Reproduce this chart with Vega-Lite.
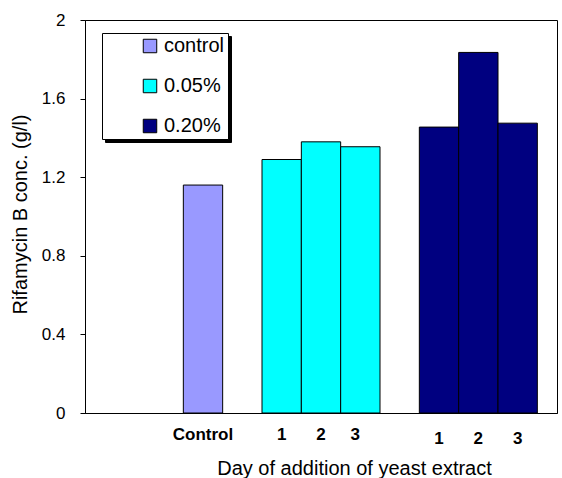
{
  "$schema": "https://vega.github.io/schema/vega-lite/v6.json",
  "width": 472,
  "height": 393,
  "autosize": "none",
  "padding": {"left": 85, "top": 20, "right": 5, "bottom": 65},
  "background": "white",
  "config": {
    "font": "Liberation Sans",
    "view": {"stroke": "black", "strokeWidth": 1},
    "axis": {"labelColor": "black", "titleColor": "black", "domainColor": "black", "tickColor": "black", "grid": false},
    "legend": {"labelColor": "black", "titleColor": "black"}
  },
  "data": {
    "values": [
      {"slot": "ctrl", "group": "control", "value": 1.16},
      {"slot": "c1", "group": "0.05%", "value": 1.29},
      {"slot": "c2", "group": "0.05%", "value": 1.38},
      {"slot": "c3", "group": "0.05%", "value": 1.355},
      {"slot": "n1", "group": "0.20%", "value": 1.455},
      {"slot": "n2", "group": "0.20%", "value": 1.835},
      {"slot": "n3", "group": "0.20%", "value": 1.475}
    ]
  },
  "mark": {"type": "bar", "stroke": "black", "strokeWidth": 1},
  "encoding": {
    "x": {
      "field": "slot",
      "type": "nominal",
      "sort": null,
      "scale": {"domain": ["e1", "e2", "ctrl", "e3", "c1", "c2", "c3", "e4", "n1", "n2", "n3"], "paddingInner": 0, "paddingOuter": 0.5},
      "axis": {
        "title": "Day of addition of yeast extract",
        "labelAngle": 0,
        "ticks": false,
        "tickSize": 0,
        "labelOverlap": false,
        "labelExpr": "datum.value == 'ctrl' ? 'Control' : (indexof(['c1','c2','c3','n1','n2','n3'], datum.value) >= 0 ? substring(datum.value, 1) : '')",
        "labelFontSize": 17,
        "labelFontWeight": "bold",
        "labelBaseline": "top",
        "labelPadding": {"condition": {"test": "indexof(['n1','n2','n3'], datum.value) >= 0", "value": 17}, "value": 13},
        "labelOffset": {"condition": {"test": "datum.value == 'c3'", "value": -5}, "value": 0},
        "titleFontSize": 20,
        "titleFontWeight": "normal",
        "titleX": 269,
        "titleY": 61,
        "titleBaseline": "alphabetic",
        "titleAlign": "center"
      }
    },
    "y": {
      "field": "value",
      "type": "quantitative",
      "scale": {"domain": [0, 2], "nice": false},
      "axis": {
        "title": "Rifamycin B conc. (g/l)",
        "values": [0, 0.4, 0.8, 1.2, 1.6, 2],
        "format": "~f",
        "tickSize": 5,
        "labelFontSize": 17,
        "labelPadding": 15,
        "titleFontSize": 20,
        "titleFontWeight": "normal",
        "titleAngle": -90,
        "titleX": -59,
        "titleY": 194,
        "titleBaseline": "alphabetic",
        "titleAlign": "center"
      }
    },
    "color": {
      "field": "group",
      "type": "nominal",
      "scale": {"domain": ["control", "0.05%", "0.20%"], "range": ["#9999FF", "#00FFFF", "#000080"]},
      "legend": {
        "title": " ",
        "titleOrient": "left",
        "titleFontSize": 10,
        "titlePadding": 35,
        "orient": "none",
        "legendX": 17,
        "legendY": 13,
        "fillColor": "white",
        "strokeColor": "black",
        "padding": 3,
        "rowPadding": 20,
        "symbolType": "square",
        "symbolSize": 182,
        "symbolStrokeColor": "black",
        "symbolStrokeWidth": 1,
        "labelFontSize": 20,
        "labelOffset": 4,
        "labelExpr": "datum.label + '\u00a0\u00a0\u00a0\u00a0\u00a0\u00a0'",
        "zindex": 2
      }
    },
    "opacity": {
      "field": "group",
      "type": "nominal",
      "scale": {"domain": ["0.20%", "0.05%", "control"], "range": [1, 1, 1]},
      "legend": {
        "title": " ",
        "titleOrient": "left",
        "titleFontSize": 10,
        "titlePadding": 35,
        "orient": "none",
        "legendX": 20,
        "legendY": 16,
        "fillColor": "black",
        "strokeColor": "black",
        "padding": 3,
        "rowPadding": 20,
        "symbolType": "square",
        "symbolSize": 182,
        "symbolOpacity": 0,
        "labelOpacity": 0,
        "labelFontSize": 20,
        "labelOffset": 4,
        "labelExpr": "datum.label + '\u00a0\u00a0\u00a0\u00a0\u00a0\u00a0'",
        "zindex": 1
      }
    }
  }
}
